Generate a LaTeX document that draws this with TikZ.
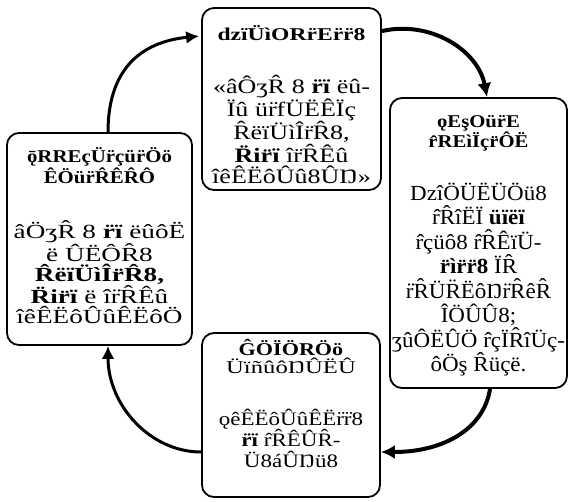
\documentclass[tikz,border=0pt]{standalone}
\usepackage{fontspec}
\setmainfont{Liberation Serif}
\usetikzlibrary{arrows.meta}
\newcommand\myfnt[3]{\fontsize{#1}{#2}\selectfont\addfontfeatures{FakeStretch=#3}}
\tikzset{
  box/.style={draw, line width=1.8pt, rounded corners=12pt, inner sep=0pt},
  txt/.style={inner sep=0pt, align=center, anchor=north},
  flow/.style={line width=3pt, -{Latex[length=13pt,width=13pt]}},
  flowthick/.style={line width=4pt, -{Latex[length=14pt,width=14pt]}},
}
\begin{document}
\begin{tikzpicture}[x=1pt,y=-1pt]
\useasboundingbox (0,0) rectangle (570,501);
% boxes
\node[box, minimum width=179pt, minimum height=182pt] (bt) at (291.5,99) {};
\node[box, minimum width=177pt, minimum height=290pt] (br) at (478.5,243) {};
\node[box, minimum width=185pt, minimum height=212pt] (bl) at (99.5,239) {};
\node[box, minimum width=178pt, minimum height=164pt] (bb) at (291,415) {};
% top box text
\node[inner sep=0pt, anchor=base, font=\myfnt{18}{21}{1.31}\bfseries] (tt) at (291.5,40) {dzïÜìORr̈Er̈r̈8};
\node[txt, font=\myfnt{20.5}{21}{1.27}] (tbd) at (291.5,74.5) {\rule{0pt}{18.5pt}«âÔʒR̂ 8 \textbf{r̈ï} ëû-\\Ïû ür̈fÜËÊÏç\\R̂ëïÜìÎr̈R̂8,\\\textbf{R̈ir̈ï} îr̈R̂Êû\\îêÊËôÛû8ÛŊ»};
% right box text
\node[txt, font=\myfnt{18}{18.5}{1.15}\bfseries] (rt) at (478.5,110.5) {\rule{0pt}{16.5pt}ǫEşOür̈E\\r̂REìÏçr̈ÔË};
\node[txt, font=\myfnt{21.5}{24.5}{1.07}] (rbd) at (478.5,180.5) {\rule{0pt}{19.5pt}DzîÖÜËÜÖü8\\r̂R̂îËÏ \textbf{üïëï}\\r̂çüô8 r̂R̂ÊïÜ-\\\textbf{r̈ìr̈r̈8} ÏR̂\\r̈R̂ÜR̈ËôŊr̈R̂êR̂\\ÎÖÛÛ8;\\ʒûÔËÛÖ r̂çÏR̂îÜç-\\ôÖş R̂üçë.};
% left box text
\node[txt, font=\myfnt{18}{21}{1.16}\bfseries] (lt) at (99.5,145.5) {\rule{0pt}{16.5pt}ǭRREçÜr̈çür̈Öö\\ÊÖür̈R̂ÊR̂Ô};
\node[txt, font=\myfnt{20}{20}{1.36}] (lbd) at (99.5,220) {\rule{0pt}{18pt}âÖʒR̂ 8 \textbf{r̈ï} ëûôË\\ë ÛËÔR̂8\\\textbf{R̂ëïÜìÎr̈R̂8,}\\\textbf{R̈ir̈ï} ë îr̈R̂Êû\\îêÊËôÛûÊËôÖ};
% bottom box text
\node[txt, font=\myfnt{18}{18}{1.23}] (btt) at (291,338.5) {\rule{0pt}{16.5pt}\textbf{ĜÖÏÖRÖö}\\{\addfontfeatures{FakeStretch=1.37}ÜïñûôŊÛËÛ}};
\node[txt, font=\myfnt{19}{21}{1.21}] (bbd) at (291,408) {\rule{0pt}{17pt}ǫêÊËôÛûÊËr̈r̈8\\\textbf{r̈ï} r̂R̂ÊÛR̂-\\Ü8áÛŊü8};
% arrows
\draw[flow] ([xshift=8.5pt]bl.north) .. controls (108,70) and (140,42) .. ([xshift=-2pt,yshift=-29pt]bt.north west);
\draw[flowthick] ([yshift=-24pt]bt.north east) .. controls (430,20) and (478,50) .. ([xshift=8.5pt]br.north);
\draw[flowthick] ([xshift=11.5pt]br.south) .. controls (484,428) and (445,452) .. ([yshift=-37pt]bb.east);
\draw[flow] ([yshift=-37pt]bb.west) .. controls (150,452) and (108,405) .. ([xshift=8.5pt]bl.south);
\end{tikzpicture}
\end{document}
